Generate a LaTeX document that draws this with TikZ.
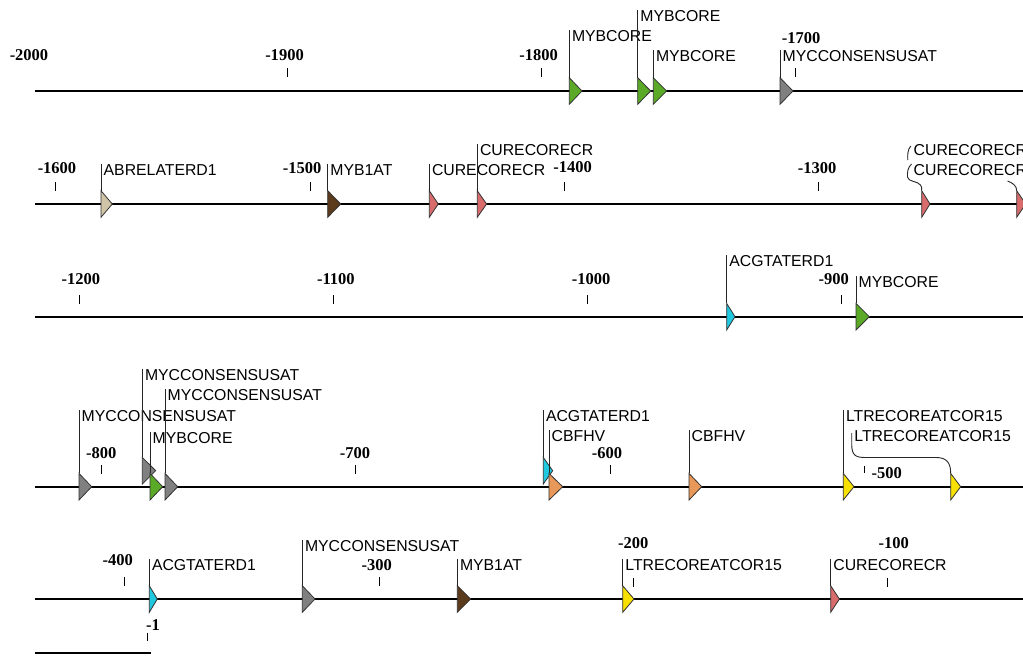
\documentclass[tikz,border=0pt]{standalone}
\usepackage{fontspec}
\setmainfont{Liberation Sans}
\newfontfamily\numfont{Liberation Serif}
\definecolor{cgreen}{HTML}{5AAA28}
\definecolor{cgray}{HTML}{808080}
\definecolor{ctan}{HTML}{CFC4A8}
\definecolor{cbrown}{HTML}{5C3A1C}
\definecolor{cpink}{HTML}{D86C6C}
\definecolor{ccyan}{HTML}{20C8E0}
\definecolor{corange}{HTML}{E89858}
\definecolor{cyellow}{HTML}{F8E000}
\tikzset{
  seq/.style={line width=2pt, draw=black},
  leader/.style={line width=0.9pt, draw=black!85},
  tickmark/.style={line width=0.9pt, draw=black},
  lab/.style={anchor=base west, inner sep=0pt, font=\fontsize{15.8}{16}\selectfont},
  num/.style={anchor=base, inner sep=0pt, font=\numfont\bfseries\fontsize{16.5}{17}\selectfont},
  tri/.style={draw=black!80, line width=0.8pt, line join=miter},
}
% name, x, line y, width, colour, dy, label baseline, text
\newcommand\motif[8]{%
  \coordinate (#1t) at ({#2},{#3+(#6)-13.3});
  \filldraw[tri, fill=#5] (#1t) -- ({#2+#4},{#3+(#6)}) -- ({#2},{#3+(#6)+13.3}) -- cycle;
  \node[lab] (#1l) at ({#2+2.5},{#7}) {#8};
  \draw[leader] (#1l.north west -| #1t) -- (#1t);
}
% triangle only: name, x, line y, width, colour
\newcommand\tria[5]{%
  \coordinate (#1t) at ({#2},{#3-13.3});
  \filldraw[tri, fill=#5] (#1t) -- ({#2+#4},{#3}) -- ({#2},{#3+13.3}) -- cycle;
}
% position mark: name, tick x, label x, label baseline, tick top, tick bottom, text
\newcommand\posmark[7]{%
  \node[num] (#1) at ({#3},{#4}) {#7};
  \draw[tickmark] ({#2},{#5}) -- ({#2},{#6});
}
\begin{document}
\begin{tikzpicture}[x=1pt,y=-1pt]
\useasboundingbox (0,0) rectangle (1023,657);
\clip (0,0) rectangle (1023,657);

% ---------- row 1 ----------
\coordinate (r1a) at (35,91); \coordinate (r1b) at (1030,91);
\draw[seq] (r1a) -- (r1b);
\node[num] (n2000) at (29,60) {-2000};
\posmark{n1900}{287}{284.5}{60}{68}{77}{-1900}
\posmark{n1800}{541.7}{538.5}{60}{68}{77}{-1800}
\posmark{n1700}{795.7}{801}{43.3}{68}{77}{-1700}
\motif{a1}{569.3}{91}{12.7}{cgreen}{0}{41.7}{MYBCORE}
\motif{a2}{637.7}{91}{13}{cgreen}{0}{21}{MYBCORE}
\motif{a3}{653.3}{91}{13.3}{cgreen}{0}{61.7}{MYBCORE}
\motif{a4}{780}{91}{13}{cgray}{0}{61.7}{MYCCONSENSUSAT}

% ---------- row 2 ----------
\coordinate (r2a) at (35,204); \coordinate (r2b) at (1030,204);
\draw[seq] (r2a) -- (r2b);
\posmark{n1600}{55.7}{57}{173}{182}{191}{-1600}
\posmark{n1500}{310.7}{302}{173}{182}{191}{-1500}
\posmark{n1400}{564.7}{572.7}{172}{182}{191}{-1400}
\posmark{n1300}{818}{817}{173}{182}{191}{-1300}
\motif{b1}{101}{204}{11.3}{ctan}{0}{175}{ABRELATERD1}
\motif{b2}{327.7}{204}{13}{cbrown}{0}{175}{MYB1AT}
\motif{b3}{429.3}{204}{9}{cpink}{0}{175}{CURECORECR}
\motif{b4}{477.3}{204}{9.3}{cpink}{0}{155}{CURECORECR}
\tria{b5}{921.7}{204}{8.3}{cpink}
\tria{b6}{1016.7}{204}{9}{cpink}
\node[lab] (b5l) at (913.5,175) {CURECORECR};
\node[lab] (b6l) at (913.5,155) {CURECORECR};
\coordinate (b6a) at (910.7,146);
\coordinate (b5a) at (911.5,164);
\coordinate (b6b) at (1007.5,181);
\draw[leader] (b6a) .. controls (907.5,150) and (907.5,155) .. (907.8,160);
\draw[leader] (b5a) .. controls (907.5,168) and (907.3,172) .. (907.5,177)
  .. controls (908,182) and (918,181) .. (920.5,185) .. controls (921.7,187) .. (b5t);
\draw[leader] (b6b) .. controls (1013,183) and (1016.7,186) .. (b6t);

% ---------- row 3 ----------
\coordinate (r3a) at (35,316.7); \coordinate (r3b) at (1030,316.7);
\draw[seq] (r3a) -- (r3b);
\posmark{n1200}{79}{80.8}{284}{295}{303.5}{-1200}
\posmark{n1100}{333.3}{335.8}{284}{295}{303.5}{-1100}
\posmark{n1000}{587.7}{591}{284}{295}{303.5}{-1000}
\posmark{n900}{841.7}{833.8}{284}{295}{303.5}{-900}
\motif{c1}{726.7}{316.7}{8.3}{ccyan}{0}{266.7}{ACGTATERD1}
\motif{c2}{856}{316.7}{13.3}{cgreen}{0}{287}{MYBCORE}

% ---------- row 4 ----------
\coordinate (r4a) at (35,486.7); \coordinate (r4b) at (1030,486.7);
\draw[seq] (r4a) -- (r4b);
\posmark{n800}{101.7}{101.3}{458}{465}{474}{-800}
\posmark{n700}{355.5}{355}{458}{465}{474}{-700}
\posmark{n600}{610}{607}{458}{465}{474}{-600}
\posmark{n500}{864}{886.7}{478.3}{466}{473}{-500}
\motif{d1}{79}{486.7}{12.7}{cgray}{0}{421.7}{MYCCONSENSUSAT}
\motif{d2}{142.3}{486.7}{13.4}{cgray}{-16}{380}{MYCCONSENSUSAT}
\motif{d3}{150}{486.7}{12.7}{cgreen}{0}{443}{MYBCORE}
\motif{d4}{165}{486.7}{12.7}{cgray}{0}{400}{MYCCONSENSUSAT}
\motif{d5}{543.3}{486.7}{9.4}{ccyan}{-16}{421.7}{ACGTATERD1}
\motif{d6}{549}{486.7}{13.7}{corange}{0}{441.7}{CBFHV}
\motif{d7}{689}{486.7}{12.7}{corange}{0}{441.7}{CBFHV}
\motif{d8}{843.3}{486.7}{10.7}{cyellow}{0}{421.7}{LTRECOREATCOR15}
\tria{d9}{950.7}{486.7}{10}{cyellow}
\node[lab] (d9l) at (854.2,441.7) {LTRECOREATCOR15};
\coordinate (d9a) at (851.7,433);
\draw[leader] (d9a) -- (851.7,444)
  .. controls (851.7,456) and (856,457.5) .. (866,457.5) -- (936,457.5)
  .. controls (946,457.5) and (950.7,462) .. (d9t);

% ---------- row 5 ----------
\coordinate (r5a) at (35,599); \coordinate (r5b) at (1030,599);
\draw[seq] (r5a) -- (r5b);
\posmark{n400}{124.3}{117.7}{565}{577}{586}{-400}
\posmark{n300}{379.3}{376.7}{570}{577}{586}{-300}
\posmark{n200}{633.3}{633.3}{548}{578}{587}{-200}
\posmark{n100}{887.3}{893.8}{548}{578}{587}{-100}
\posmark{n1}{147.7}{153}{630}{632.5}{641}{-1}
\motif{e1}{149.3}{599}{8}{ccyan}{0}{570}{ACGTATERD1}
\motif{e2}{302.3}{599}{12.7}{cgray}{0}{551.7}{MYCCONSENSUSAT}
\motif{e3}{457.3}{599}{13.3}{cbrown}{0}{570}{MYB1AT}
\motif{e4}{622.7}{599}{11.3}{cyellow}{0}{570}{LTRECOREATCOR15}
\motif{e5}{830.7}{599}{8.7}{cpink}{0}{570}{CURECORECR}

% scale bar
\coordinate (sba) at (35,653.3); \coordinate (sbb) at (151,653.3);
\draw[seq] (sba) -- (sbb);
\end{tikzpicture}
\end{document}
